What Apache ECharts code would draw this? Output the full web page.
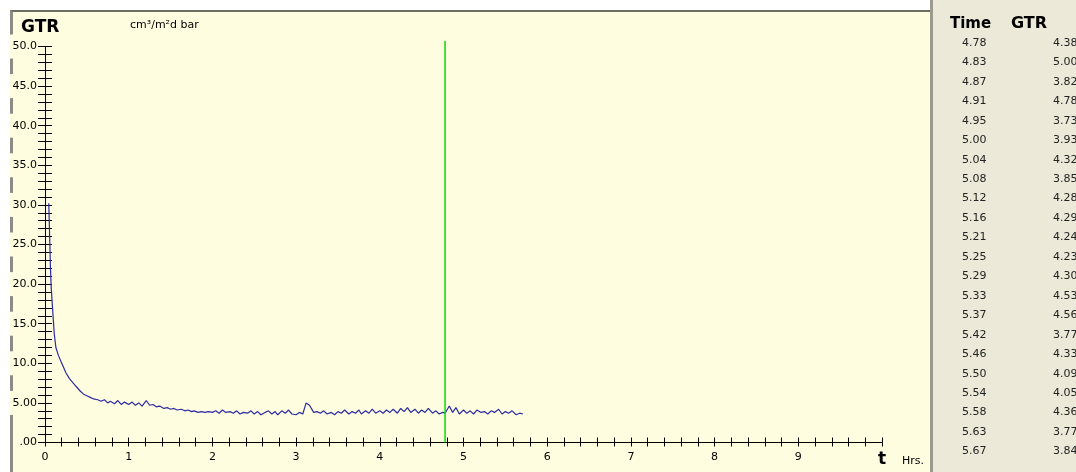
<!DOCTYPE html>
<html>
<head>
<meta charset="utf-8">
<script src="https://cdn.jsdelivr.net/npm/echarts@6/dist/echarts.min.js"></script>
<style>
  body { margin: 0; background: #fff; }
  #wrap { position: relative; width: 1076px; height: 472px; overflow: hidden; background: #fff; }
  #plotbg { position: absolute; left: 10px; top: 10px; width: 921px; height: 462px; box-sizing: border-box;
            background: #fffddf; border-top: 2px solid #6e6e62; border-left: 3px solid #8c8c84; }
  #side { position: absolute; left: 930px; top: 0; width: 146px; height: 472px; box-sizing: border-box;
          background: #ece9d8; border-left: 3px solid #9a9a90; }
  #main { position: absolute; left: 0; top: 0; width: 1076px; height: 472px; }
</style>
</head>
<body>
<div id="wrap">
  <div id="plotbg"></div>
  <div id="side"></div>
  <div id="main"></div>
</div>
<script>
// sample times (hours)
var times = [
  0.045, 0.055, 0.065, 0.075, 0.09, 0.11, 0.13, 0.16, 0.20, 0.25, 0.29, 0.33, 0.37, 0.42, 0.46, 0.50, 0.54, 0.58, 0.63, 0.67, 0.71, 0.75, 0.78, 0.83, 0.87, 0.91, 0.95, 1.00,
  1.04, 1.08, 1.12, 1.16, 1.21, 1.25, 1.29, 1.33, 1.37, 1.42, 1.46, 1.50, 1.54, 1.58, 1.63, 1.67, 1.71, 1.75, 1.78, 1.83, 1.87, 1.91, 1.95, 2.00,
  2.04, 2.08, 2.12, 2.16, 2.21, 2.25, 2.29, 2.33, 2.37, 2.42, 2.46, 2.50, 2.54, 2.58, 2.63, 2.67, 2.71, 2.75, 2.78, 2.83, 2.87, 2.91, 2.95, 3.00,
  3.04, 3.08, 3.12, 3.16, 3.21, 3.25, 3.29, 3.33, 3.37, 3.42, 3.46, 3.50, 3.54, 3.58, 3.63, 3.67, 3.71, 3.75, 3.78, 3.83, 3.87, 3.91, 3.95, 4.00,
  4.04, 4.08, 4.12, 4.16, 4.21, 4.25, 4.29, 4.33, 4.37, 4.42, 4.46, 4.50, 4.54, 4.58, 4.63, 4.67, 4.71, 4.75, 4.78, 4.83, 4.87, 4.91, 4.95, 5.00,
  5.04, 5.08, 5.12, 5.16, 5.21, 5.25, 5.29, 5.33, 5.37, 5.42, 5.46, 5.50, 5.54, 5.58, 5.63, 5.67, 5.71
];
// GTR values
var gtr = [
  30.2, 26.3, 22.0, 19.4, 17.0, 13.8, 12.0, 11.0, 10.0, 8.8, 8.1, 7.6, 7.1, 6.5, 6.1, 5.9, 5.7, 5.5, 5.4, 5.2, 5.4, 5.0, 5.2, 4.9, 5.3, 4.8, 5.1, 4.8,
  5.1, 4.7, 5.0, 4.6, 5.3, 4.7, 4.8, 4.5, 4.6, 4.3, 4.4, 4.2, 4.3, 4.1, 4.2, 4.0, 4.1, 3.9, 4.0, 3.8, 3.9, 3.8, 3.9, 3.8,
  4.0, 3.7, 4.1, 3.8, 3.9, 3.7, 4.0, 3.6, 3.8, 3.7, 4.0, 3.6, 3.9, 3.5, 3.8, 4.0, 3.6, 3.9, 3.5, 4.0, 3.7, 4.1, 3.6, 3.5,
  3.8, 3.6, 5.0, 4.7, 3.8, 3.9, 3.7, 4.0, 3.6, 3.8, 3.5, 3.9, 3.7, 4.1, 3.6, 3.9, 3.7, 4.1, 3.6, 4.0, 3.7, 4.2, 3.7, 4.0,
  3.7, 4.1, 3.8, 4.2, 3.7, 4.3, 3.9, 4.4, 3.8, 4.2, 3.7, 4.1, 3.8, 4.3, 3.7, 4.0, 3.6, 3.8, 3.7, 4.6, 3.8, 4.4, 3.6, 4.1,
  3.7, 4.0, 3.6, 4.1, 3.8, 3.9, 3.6, 4.0, 3.8, 4.2, 3.6, 3.9, 3.7, 4.0, 3.5, 3.7, 3.6
];
var cursorTime = 4.78;
var cursorTop = 50.7;

var xTickLabels = ['0', '1', '2', '3', '4', '5', '6', '7', '8', '9', 't'];
var yTickLabels = ['.00', '5.00', '10.0', '15.0', '20.0', '25.0', '30.0', '35.0', '40.0', '45.0', '50.0'];

var tableTime = ['4.78', '4.83', '4.87', '4.91', '4.95', '5.00', '5.04', '5.08', '5.12', '5.16', '5.21',
                 '5.25', '5.29', '5.33', '5.37', '5.42', '5.46', '5.50', '5.54', '5.58', '5.63', '5.67'];
var tableGtr = ['4.38', '5.00', '3.82', '4.78', '3.73', '3.93', '4.32', '3.85', '4.28', '4.29', '4.24',
                '4.23', '4.30', '4.53', '4.56', '3.77', '4.33', '4.09', '4.05', '4.36', '3.77', '3.84'];

var FONT = '"DejaVu Sans", Verdana, sans-serif';

var curve = times.map(function (t, i) { return [t, gtr[i]]; });

var texts = [
  { type: 'text', style: { text: 'GTR', x: 21, y: 28, font: 'bold 17px ' + FONT, fill: '#000', verticalAlign: 'middle' } },
  { type: 'text', style: { text: 'cm³/m²d bar', x: 130, y: 25, font: '11px ' + FONT, fill: '#000', verticalAlign: 'middle' } },
  { type: 'text', style: { text: 'Hrs.', x: 902, y: 461, font: '11px ' + FONT, fill: '#000', verticalAlign: 'middle' } },
  { type: 'text', style: { text: 'Time', x: 950, y: 24, font: 'bold 15px ' + FONT, fill: '#000', verticalAlign: 'middle' } },
  { type: 'text', style: { text: 'GTR', x: 1011, y: 24, font: 'bold 16px ' + FONT, fill: '#000', verticalAlign: 'middle' } }
];
tableTime.forEach(function (t, i) {
  var y = 43 + i * 19.45;
  texts.push({ type: 'text', style: { text: t, x: 962, y: y, font: '11px ' + FONT, fill: '#222', verticalAlign: 'middle' } });
  texts.push({ type: 'text', style: { text: tableGtr[i], x: 1053, y: y, font: '11px ' + FONT, fill: '#222', verticalAlign: 'middle' } });
});

function yAxisDef(inside) {
  return {
    type: 'value', position: 'left', min: 0, max: 50, interval: 5,
    axisLine: { show: !inside, lineStyle: { color: '#000', width: 1 } },
    axisTick: { show: true, inside: inside, length: 7, lineStyle: { color: '#000' } },
    minorTick: { show: true, splitNumber: 5, length: 7, lineStyle: { color: '#000' } },
    splitLine: { show: false },
    axisLabel: inside ? { show: false } : {
      margin: 8, color: '#000', fontSize: 11, fontFamily: FONT,
      backgroundColor: '#fffddf', padding: [7, 0, 6, 3],
      formatter: function (v) { return yTickLabels[Math.round(v / 5)]; }
    }
  };
}
function xAxisDef(inside) {
  return {
    type: 'value', position: 'bottom', min: 0, max: 10, interval: 1,
    axisLine: { show: !inside, lineStyle: { color: '#000', width: 1 } },
    axisTick: { show: true, inside: inside, length: inside ? 5 : 4, lineStyle: { color: '#000' } },
    minorTick: { show: true, splitNumber: 5, length: inside ? 5 : 4, lineStyle: { color: '#000' } },
    splitLine: { show: false },
    axisLabel: inside ? { show: false } : {
      margin: 9, color: '#000', fontSize: 11, fontFamily: FONT,
      formatter: function (v) {
        var s = xTickLabels[Math.round(v)];
        return v === 10 ? '{t|' + s + '}' : s;
      },
      rich: { t: { fontSize: 17, fontWeight: 'bold', fontFamily: FONT, color: '#000' } }
    }
  };
}

var myChart = echarts.init(document.getElementById('main'));
var option = {
  backgroundColor: 'transparent',
  animation: false,
  grid: { left: 45, right: 194, top: 46.5, bottom: 29.5 },
  xAxis: [xAxisDef(false), xAxisDef(true)],
  yAxis: [yAxisDef(false), yAxisDef(true)],
  graphic: texts,
  series: [
    {
      name: 'GTR', type: 'line', data: curve, showSymbol: false,
      lineStyle: { color: '#2c2ca4', width: 1.2 }, itemStyle: { color: '#2c2ca4' }
    },
    {
      name: 'cursor', type: 'line', clip: false, showSymbol: false,
      data: [[cursorTime, 0], [cursorTime, cursorTop]],
      lineStyle: { color: '#00e000', width: 1.5 }
    }
  ]
};
option && myChart.setOption(option);
</script>
</body>
</html>
